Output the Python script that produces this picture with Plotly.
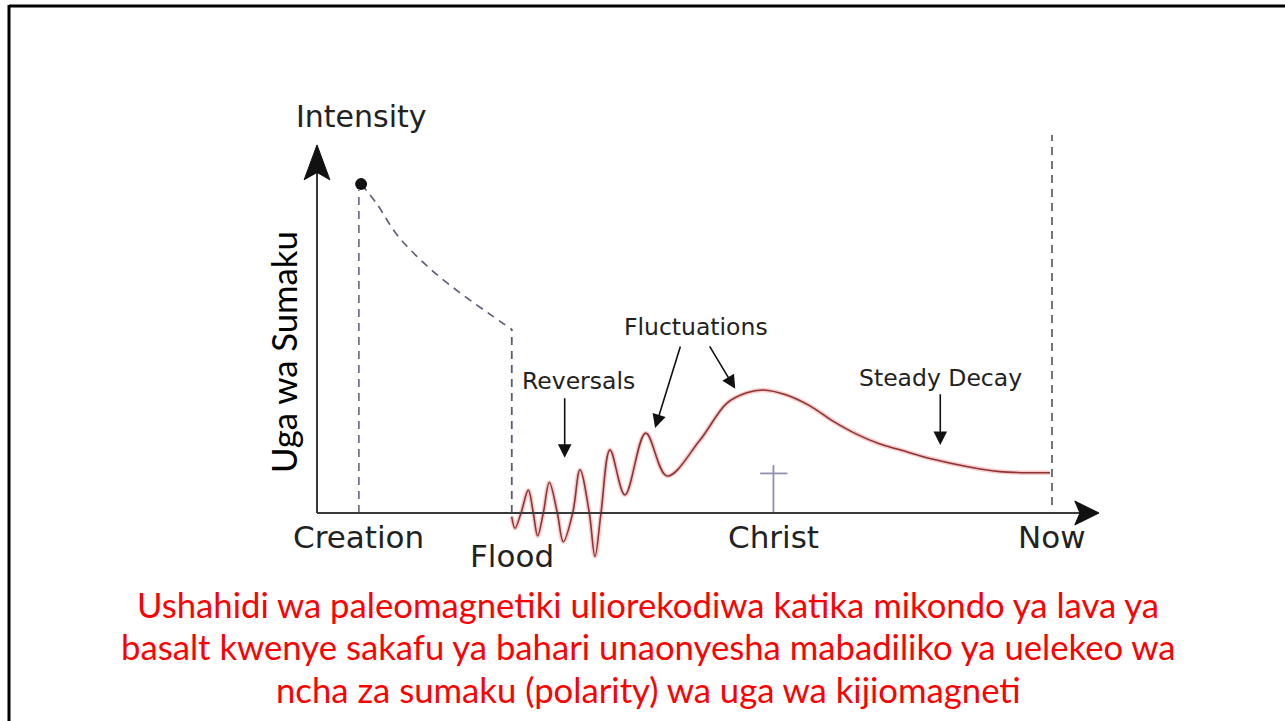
import plotly.graph_objects as go

# ---------------- data (timeline units: origin=0, Now=100; intensity: axis=0, arrow top~100)
events = ["Creation", "Flood", "Christ", "Now"]
event_x = [5.7, 26.5, 62.1, 100.0]

# magnetic intensity record after the Flood (red curve): extremes and axis crossings
field_x = [26.49, 26.94, 27.76, 28.75, 29.43, 30.02, 30.79, 31.61, 32.70, 33.51, 34.79, 35.78, 37.05, 37.82, 38.64,
           39.86, 41.90, 44.72, 47.62,
           52.11, 55.74, 58.46, 60.73, 63.90, 67.07, 70.20, 73.33, 76.60, 79.32, 83.85, 88.39, 92.93, 99.73]
field_y = [-1.0, -4.2, 0.0, 6.3, 0.0, -6.3, 0.0, 8.4, 0.0, -7.9, 0.0, 11.9, 0.0, -12.0, 0.0,
           17.4, 5.0, 22.0, 10.2,
           20.1, 30.2, 33.1, 33.9, 32.5, 29.5, 25.3, 21.8, 19.0, 17.4, 14.8, 12.8, 11.4, 11.1]

# hypothetical decay from Creation to Flood (dashed)
decay_x = [6.0, 8.1, 10.9, 15.0, 19.5, 23.5, 26.6]
decay_y = [90.6, 85.3, 76.6, 68.0, 60.6, 54.8, 50.4]

# annotations: label, label position, arrow tails and tips
labels = ["Reversals", "Fluctuations", "Steady Decay"]
label_x = [35.6, 51.6, 84.8]
label_y = [36.4, 51.2, 37.2]
arrow_tail = [(33.7, 32.0), (49.5, 46.3), (53.3, 46.3), (84.8, 33.1)]
arrow_tip = [(33.7, 15.2), (46.0, 23.4), (56.9, 34.2), (84.8, 18.7)]

caption = [
    "Ushahidi wa paleomagnetiki uliorekodiwa katika mikondo ya lava ya",
    "basalt kwenye sakafu ya bahari unaonyesha mabadiliko ya uelekeo wa",
    "ncha za sumaku (polarity) wa uga wa kijiomagneti",
]
y_title = "Uga wa Sumaku"
x_axis_title = "Intensity"

# ---------------- layout constants
W, H = 1285, 721
ORIGIN_PX, NOW_PX = 317, 1052
AXIS_PX, TOP_PX = 513, 150
sx = (NOW_PX - ORIGIN_PX) / 100.0
sy = (AXIS_PX - TOP_PX) / 100.0
xr = [-ORIGIN_PX / sx, (W - ORIGIN_PX) / sx]
yr = [(AXIS_PX - H) / sy, AXIS_PX / sy]

AX_COL = "#3a3a3a"
DASH_COL = "#5b5b78"
TXT_COL = "#222222"
FONT = "DejaVu Sans"

fig = go.Figure()

# dashed decay curve
fig.add_trace(go.Scatter(x=decay_x, y=decay_y, mode="lines", line=dict(color=DASH_COL, width=1.6, dash="8px,6px", shape="spline"),
                         hoverinfo="skip"))
# creation dot
fig.add_trace(go.Scatter(x=[decay_x[0]], y=[decay_y[0]], mode="markers", marker=dict(color="#111", size=12), hoverinfo="skip"))
# red curve: halo + core
fig.add_trace(go.Scatter(x=field_x, y=field_y, mode="lines", line=dict(color="rgba(240,140,140,0.45)", width=4.5, shape="spline", smoothing=1.0),
                         hoverinfo="skip"))
fig.add_trace(go.Scatter(x=field_x, y=field_y, mode="lines", line=dict(color="#8e3434", width=1.6, shape="spline", smoothing=1.0),
                         hoverinfo="skip"))

shapes = []
# vertical dashed markers
shapes.append(dict(type="line", xref="x", yref="y", x0=event_x[0], x1=event_x[0], y0=0, y1=89.0,
                   line=dict(color=DASH_COL, width=1.5, dash="8px,6px")))
shapes.append(dict(type="line", xref="x", yref="y", x0=event_x[1], x1=event_x[1], y0=0, y1=decay_y[-1],
                   line=dict(color=DASH_COL, width=1.8, dash="8px,6px")))
shapes.append(dict(type="line", xref="x", yref="y", x0=event_x[3], x1=event_x[3], y0=2.2, y1=104.1,
                   line=dict(color="#666", width=1.8, dash="8px,6px")))
# cross at Christ
shapes.append(dict(type="line", xref="x", yref="y", x0=event_x[2], x1=event_x[2], y0=0, y1=13.2,
                   line=dict(color="#8f8fb0", width=1.8)))
shapes.append(dict(type="line", xref="x", yref="y", x0=event_x[2] - 1.8, x1=event_x[2] + 1.9, y0=10.9, y1=10.9,
                   line=dict(color="#8f8fb0", width=1.8)))
# axes
X_END, Y_END = 106.4, 101.4
shapes.append(dict(type="line", xref="x", yref="y", x0=0, x1=X_END - 2, y0=0, y1=0, line=dict(color=AX_COL, width=2)))
shapes.append(dict(type="line", xref="x", yref="y", x0=0, x1=0, y0=0, y1=Y_END - 4, line=dict(color=AX_COL, width=2)))
# arrowheads
shapes.append(dict(type="path", xref="x", yref="y",
                   path=f"M {X_END},0 L {X_END-3.3},3.3 L {X_END-2.6},0 L {X_END-3.3},-3.3 Z",
                   fillcolor="#111", line=dict(color="#111", width=1)))
shapes.append(dict(type="path", xref="x", yref="y",
                   path=f"M 0,{Y_END} L 1.75,{Y_END-9.6} L 0,{Y_END-7.6} L -1.75,{Y_END-9.6} Z",
                   fillcolor="#111", line=dict(color="#111", width=1)))
# slide border
shapes.append(dict(type="line", xref="paper", yref="paper", x0=9 / W, x1=9 / W, y0=0, y1=1 - 5 / H,
                   line=dict(color="#000", width=3)))
shapes.append(dict(type="line", xref="paper", yref="paper", x0=9 / W, x1=1, y0=1 - 6 / H, y1=1 - 6 / H,
                   line=dict(color="#000", width=3)))

ann = []
# event labels
ev_label_y = [-6.6, -11.8, -6.6, -6.6]
for name, ex, ey in zip(events, event_x, ev_label_y):
    ann.append(dict(x=ex, y=ey, xref="x", yref="y", text=name, showarrow=False,
                    font=dict(family=FONT, size=31, color=TXT_COL), xanchor="center", yanchor="middle"))
ann.append(dict(x=6.1, y=109.1, xref="x", yref="y", text=x_axis_title, showarrow=False,
                font=dict(family=FONT, size=30, color=TXT_COL), xanchor="center", yanchor="middle"))
for t, lx, ly in zip(labels, label_x, label_y):
    ann.append(dict(x=lx, y=ly, xref="x", yref="y", text=t, showarrow=False,
                    font=dict(family=FONT, size=23.5, color=TXT_COL), xanchor="center", yanchor="middle"))
for (tx, ty), (hx, hy) in zip(arrow_tail, arrow_tip):
    ann.append(dict(x=hx, y=hy, ax=tx, ay=ty, xref="x", yref="y", axref="x", ayref="y", text="",
                    showarrow=True, arrowhead=2, arrowsize=1.7, arrowwidth=1.6, arrowcolor="#111"))
# rotated y title
ann.append(dict(x=283 / W, y=1 - 352 / H, xref="paper", yref="paper", text=y_title, textangle=-90, showarrow=False,
                font=dict(family="Lato", size=34.7, color="#000"), xanchor="center", yanchor="middle"))
# caption
for i, line in enumerate(caption):
    ann.append(dict(x=648 / W, y=1 - (604 + 42.5 * i) / H, xref="paper", yref="paper", text=line, showarrow=False,
                    font=dict(family="Lato", size=34.7, color="#ff0000"), xanchor="center", yanchor="middle"))

fig.update_layout(
    width=W, height=H, margin=dict(l=0, r=0, t=0, b=0),
    paper_bgcolor="white", plot_bgcolor="white", showlegend=False,
    xaxis=dict(range=xr, visible=False, fixedrange=True),
    yaxis=dict(range=yr, visible=False, fixedrange=True),
    shapes=shapes, annotations=ann,
)
fig.write_html("out.html", config={"displayModeBar": False, "staticPlot": True},
               post_script="document.body.style.margin='0px';document.body.style.overflow='hidden';")
